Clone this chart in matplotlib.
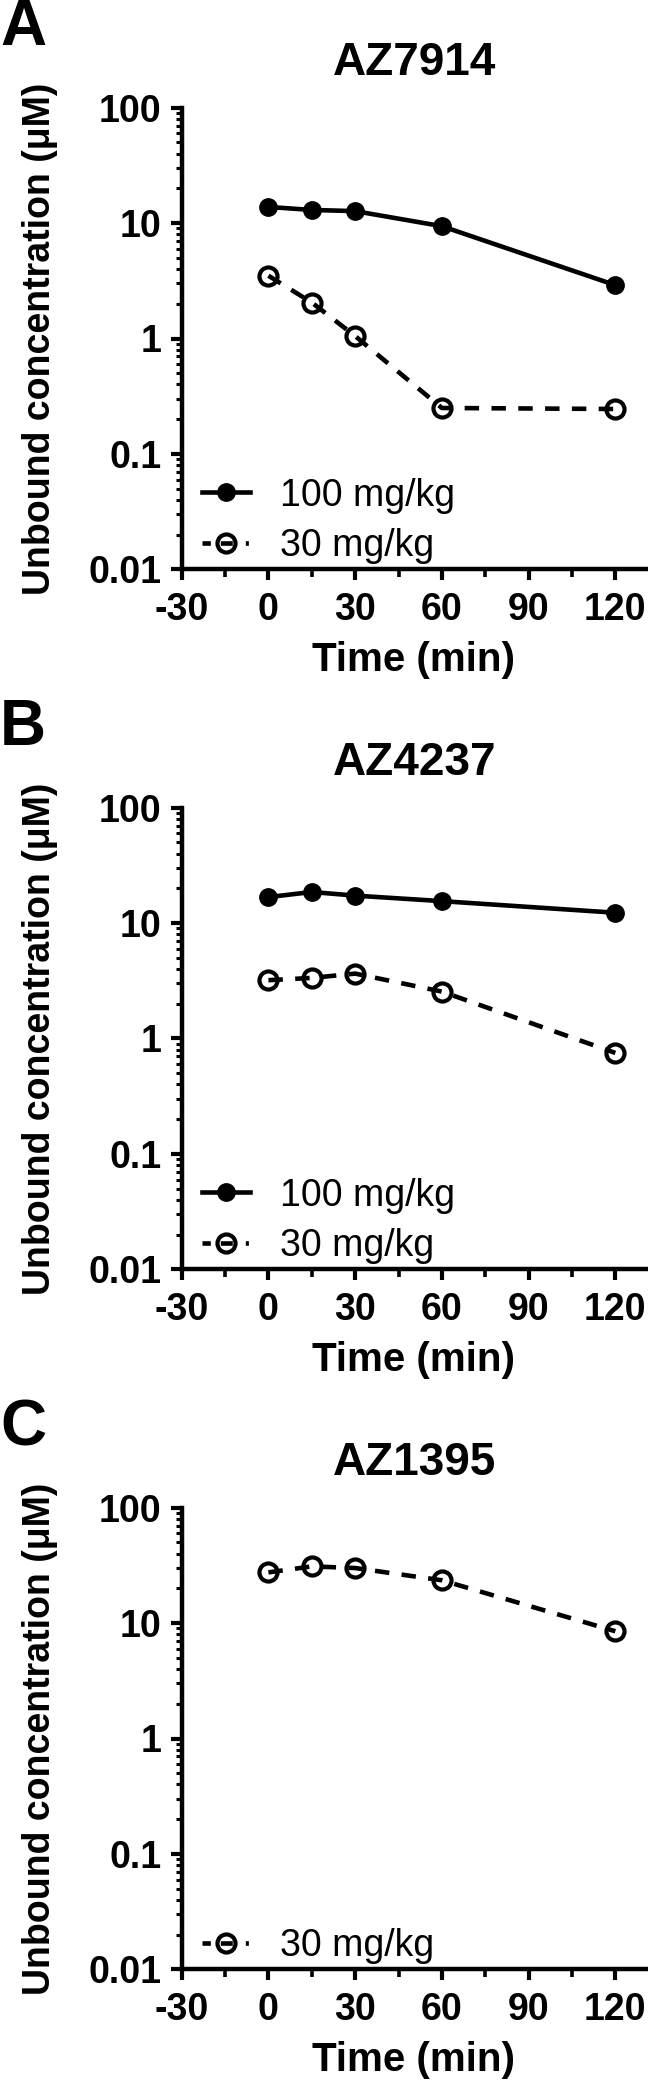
import matplotlib
matplotlib.use('Agg')
import matplotlib.pyplot as plt
from matplotlib.ticker import FixedLocator, FixedFormatter, NullFormatter
from matplotlib.legend_handler import HandlerLine2D

plt.rcParams['font.family'] = ['Liberation Sans', 'DejaVu Sans']
plt.rcParams['font.weight'] = 'bold'
plt.rcParams['lines.scale_dashes'] = False
plt.rcParams['axes.unicode_minus'] = False

# ---- data ----
time_min = [0, 15, 30, 60, 120]
az7914_100 = [13.8, 13.0, 12.7, 9.4, 2.9]
az7914_30 = [3.5, 2.05, 1.05, 0.25, 0.245]
az4237_100 = [16.8, 18.6, 17.3, 15.5, 12.3]
az4237_30 = [3.2, 3.35, 3.65, 2.55, 0.75]
az1395_30 = [27.5, 31.0, 30.0, 23.5, 8.5]

panel_letters = ['A', 'B', 'C']
panel_titles = ['AZ7914', 'AZ4237', 'AZ1395']
dose_labels = ['100 mg/kg', '30 mg/kg']
y_major = [0.01, 0.1, 1, 10, 100]
y_major_labels = ['0.01', '0.1', '1', '10', '100']
x_major = [-30, 0, 30, 60, 90, 120]
x_major_labels = ['-30', '0', '30', '60', '90', '120']
x_minor = [-15, 15, 45, 75, 105]
y_label = 'Unbound concentration (\u03bcM)'
x_label = 'Time (min)'

series = [
    [(az7914_100, dose_labels[0], 'filled'), (az7914_30, dose_labels[1], 'open')],
    [(az4237_100, dose_labels[0], 'filled'), (az4237_30, dose_labels[1], 'open')],
    [(az1395_30, dose_labels[1], 'open')],
]

DASH = (0, (10.4, 8.9))
LEGEND_DASH = (0, (6.0, 7.2, 8.6, 9.4, 2.2, 30))


def legend_update(legend_handle, orig_handle):
    legend_handle.update_from(orig_handle)
    if orig_handle.get_linestyle() not in ('-', 'solid'):
        legend_handle.set_linestyle(LEGEND_DASH)


W, H = 648, 2080
fig = plt.figure(figsize=(W / 100, H / 100), dpi=100)

ax_left = 181.7
ax_top = 107.7
ax_bottom = 569.3
offsets = [0, 700, 1400]

y_minor = [m * 10 ** e for e in range(-2, 2) for m in range(2, 10)]

TICK_FS = 27
LEG_FS = 27

for i, off in enumerate(offsets):
    ax = fig.add_axes([ax_left / W, 1 - (ax_bottom + off) / H,
                       (W - ax_left) / W, (ax_bottom - ax_top) / H])
    for vals, lab, kind in series[i]:
        if kind == 'filled':
            ax.plot(time_min, vals, color='black', lw=3.3, marker='o', ms=12.5,
                    mfc='black', mec='black', mew=1, clip_on=False, label=lab)
        else:
            ax.plot(time_min, vals, color='black', lw=3.3, ls=DASH,
                    marker='o', ms=13, mfc='none', mec='black', mew=3,
                    clip_on=False, label=lab)
    ax.set_yscale('log')
    ax.set_ylim(0.01, 100)
    ax.set_xlim(-30, 131.3)
    ax.yaxis.set_major_locator(FixedLocator(y_major))
    ax.yaxis.set_major_formatter(FixedFormatter(y_major_labels))
    ax.yaxis.set_minor_locator(FixedLocator(y_minor))
    ax.yaxis.set_minor_formatter(NullFormatter())
    ax.xaxis.set_major_locator(FixedLocator(x_major))
    ax.xaxis.set_major_formatter(FixedFormatter(x_major_labels))
    ax.xaxis.set_minor_locator(FixedLocator(x_minor))
    ax.xaxis.set_minor_formatter(NullFormatter())
    for s in ['top', 'right']:
        ax.spines[s].set_visible(False)
    for s in ['left', 'bottom']:
        ax.spines[s].set_linewidth(3.2)
    ax.tick_params(axis='both', which='major', length=8, width=3,
                   labelsize=TICK_FS, direction='out')
    ax.tick_params(axis='x', which='major', pad=8.3)
    ax.tick_params(axis='y', which='major', pad=6.5)
    ax.tick_params(axis='y', which='minor', length=4, width=2.2)
    ax.tick_params(axis='x', which='minor', length=5.5, width=2.6)
    ax.patch.set_alpha(0)

    handles, labels = ax.get_legend_handles_labels()
    ax.legend(handles, labels, loc='lower left', bbox_to_anchor=(0.043, 0.011),
              frameon=False, handlelength=1.28, handletextpad=0.8,
              borderpad=0, borderaxespad=0, labelspacing=0.39,
              prop={'weight': 'normal', 'size': LEG_FS},
              handler_map={h: HandlerLine2D(update_func=legend_update)
                           for h in handles})

    fig.text(0, 1 - (45 + off) / H, panel_letters[i], ha='left', va='baseline',
             fontsize=46, fontweight='bold')
    fig.text(414.7 / W, 1 - (63.3 + off) / H, panel_titles[i], ha='center',
             va='center', fontsize=33, fontweight='bold')
    fig.text(40 / W, 1 - (338.5 + off) / H, y_label, rotation=90, ha='center',
             va='center', fontsize=27, fontweight='bold')
    fig.text(414 / W, 1 - (660 + off) / H, x_label, ha='center', va='center',
             fontsize=29, fontweight='bold')

fig.savefig('out.png', dpi=100, facecolor='white')
